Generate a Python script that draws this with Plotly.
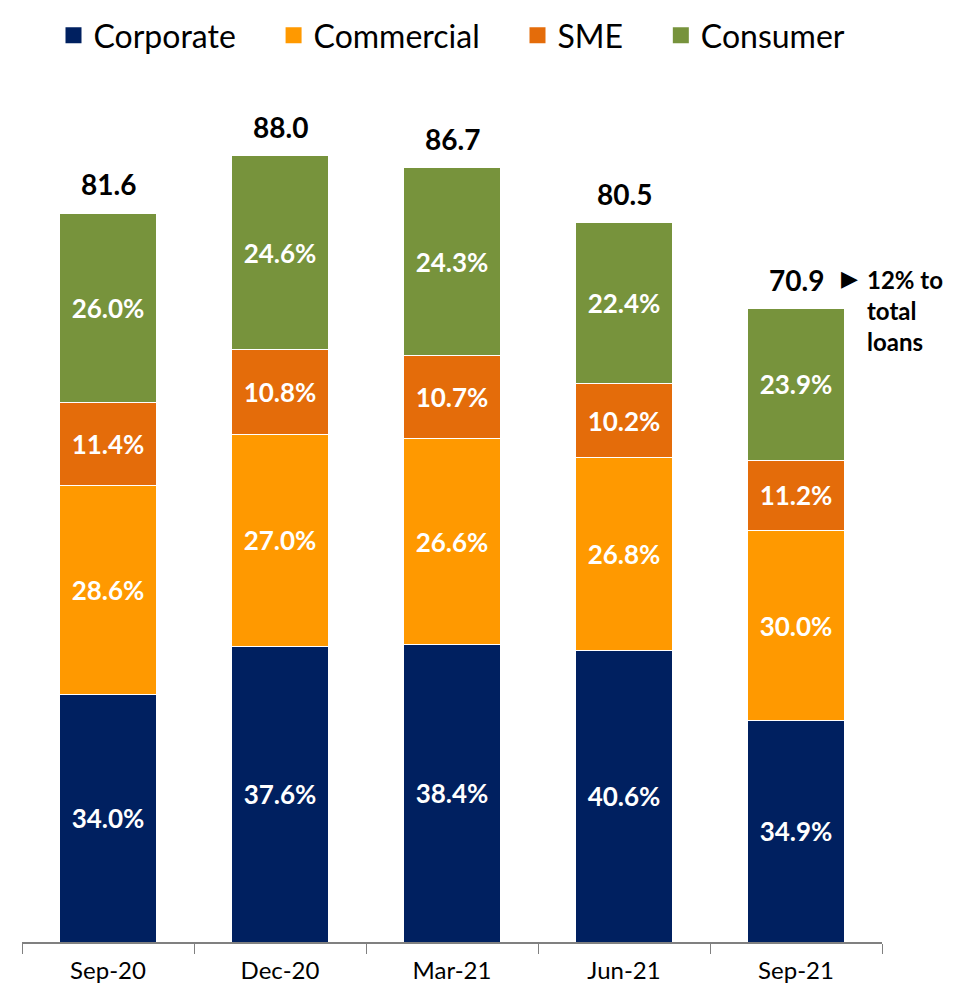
import plotly.graph_objects as go

categories = ["Sep-20", "Dec-20", "Mar-21", "Jun-21", "Sep-21"]
totals = [81.6, 88.0, 86.7, 80.5, 70.9]
corporate_pct = [34.0, 37.6, 38.4, 40.6, 34.9]
commercial_pct = [28.6, 27.0, 26.6, 26.8, 30.0]
sme_pct = [11.4, 10.8, 10.7, 10.2, 11.2]
consumer_pct = [26.0, 24.6, 24.3, 22.4, 23.9]
note_text = "12% to<br>total<br>loans"

series = [
    ("Corporate", corporate_pct, "#002060"),
    ("Commercial", commercial_pct, "#FF9900"),
    ("SME", sme_pct, "#E46C0A"),
    ("Consumer", consumer_pct, "#77933C"),
]

FONT = "Lato"
fig = go.Figure()
for name, pcts, color in series:
    vals = [t * p / 100 for t, p in zip(totals, pcts)]
    fig.add_trace(go.Bar(
        x=categories, y=vals, name=name, showlegend=False,
        marker=dict(color=color, line=dict(color="white", width=1)),
        width=0.56,
        text=[f"{p:.1f}%" for p in pcts],
        textposition="inside", insidetextanchor="middle",
        textfont=dict(family=FONT, size=26, color="white", weight="bold"),
        constraintext="none",
        hoverinfo="skip",
    ))
# legend entries with larger square markers
for i, (name, pcts, color) in enumerate(series):
    pad = "" if i == len(series) - 1 else "\u00a0\u00a0\u00a0\u00a0"
    fig.add_trace(go.Scatter(
        x=[None], y=[None], mode="markers", name=name + pad,
        marker=dict(symbol="square", size=16, color=color),
        hoverinfo="skip",
    ))

for c, t in zip(categories, totals):
    fig.add_annotation(x=c, y=t, text=f"<b>{t:.1f}</b>", showarrow=False,
                       yanchor="middle", yshift=29,
                       font=dict(family=FONT, size=28, color="black"))

fig.add_annotation(x=categories[-1], y=totals[-1], text="▶", showarrow=False,
                   xanchor="center", yanchor="middle", xshift=53, yshift=30,
                   font=dict(family="DejaVu Sans", size=22, color="black"))
fig.add_annotation(x=categories[-1], y=totals[-1], text=f"<b>{note_text}</b>", showarrow=False,
                   xanchor="left", yanchor="top", xshift=69, yshift=46, align="left",
                   font=dict(family=FONT, size=24, color="black"))

fig.update_layout(
    width=958, height=987,
    barmode="stack",
    plot_bgcolor="white", paper_bgcolor="white",
    margin=dict(l=14, r=84, t=52, b=53),
    showlegend=True,
    legend=dict(orientation="h", x=0.5, xanchor="center", y=1.0, yanchor="top",
                yref="container",
                font=dict(family=FONT, size=32, color="black"),
                traceorder="normal", itemsizing="trace"),
    xaxis=dict(range=[-0.5, 4.5], showline=True, linecolor="#808080", linewidth=1.5,
               ticks="outside", tickson="boundaries", ticklen=10, tickcolor="#808080",
               ticklabelstandoff=6, automargin=False,
               tickfont=dict(family=FONT, size=24, color="black"), showgrid=False),
    yaxis=dict(range=[0, 98.4], visible=False, showgrid=False),
)
fig.write_html("out.html")
